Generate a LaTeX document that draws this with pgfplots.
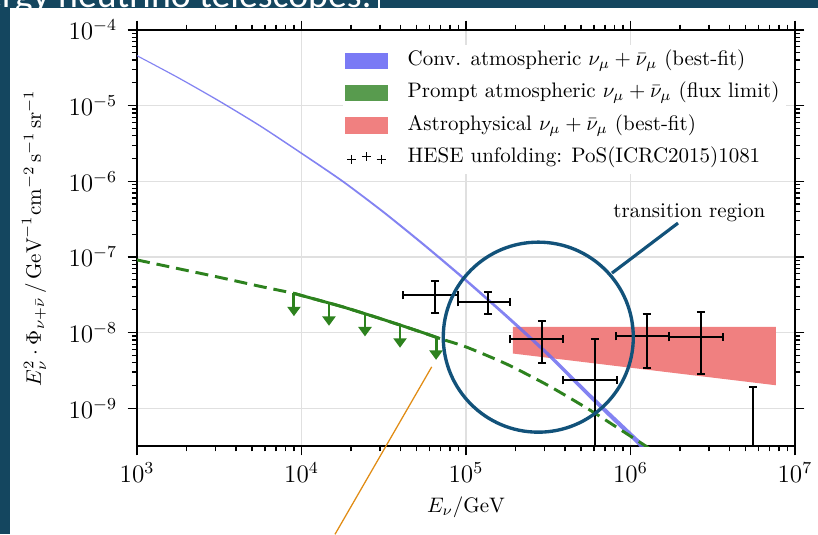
\documentclass[border=0pt]{standalone}
\usepackage{fontspec}
\newfontfamily\slidefont{Carlito}
\usepackage{pgfplots}
\pgfplotsset{compat=1.18}
\usetikzlibrary{arrows.meta}
\definecolor{slidebg}{RGB}{20,70,95}
\definecolor{convblue}{RGB}{110,110,240}
\definecolor{convpatch}{RGB}{122,122,245}
\definecolor{promptgreen}{RGB}{45,130,30}
\definecolor{promptpatch}{RGB}{88,155,78}
\definecolor{astrored}{RGB}{240,128,128}
\definecolor{circblue}{RGB}{18,82,122}
\definecolor{annorange}{RGB}{225,140,20}
\begin{document}
\begin{tikzpicture}
\useasboundingbox (0,0) rectangle (390pt,254.6pt);
\fill[slidebg] (0,0) rectangle (390pt,254.6pt);
\node[anchor=base east, inner sep=0, text=white, font=\slidefont\fontsize{18}{20}\selectfont] at (177.4pt,251.0pt) {High-energy neutrino telescopes:};
\fill[white] (4.77pt,0) rectangle (390pt,251.0pt);
\draw[white, line width=1pt] (180.7pt,251pt) -- (180.7pt,254.6pt);
\begin{axis}[
  at={(65.32pt,41.96pt)}, anchor=south west,
  scale only axis, width=313.7pt, height=198.35pt,
  xmode=log, ymode=log,
  xmin=1e3, xmax=1e7, ymin=3.16228e-10, ymax=1e-4,
  xtick={1e3,1e4,1e5,1e6,1e7},
  ytick={1e-9,1e-8,1e-7,1e-6,1e-5,1e-4},
  grid=major, major grid style={black!12, line width=0.6pt},
  axis line style={line width=0.9pt},
  tick align=outside,
  major tick length=4.5pt, minor tick length=2.5pt,
  every tick/.style={black, line width=0.6pt},
  tick label style={font=\fontsize{12}{14}\selectfont},
  yticklabel style={xshift=-1.5pt},
  label style={font=\fontsize{12.5}{14}\selectfont},
  clip mode=individual,
  xlabel={$E_{\nu}/\mathrm{GeV}$},
  ylabel={$E_{\nu}^{2}\cdot\Phi_{\nu+\bar{\nu}}\,/\,\mathrm{GeV}^{-1}\mathrm{cm}^{-2}\,\mathrm{s}^{-1}\,\mathrm{sr}^{-1}$},
  every axis x label/.style={at={(axis description cs:0.5,-0.1466)}, anchor=center},
  every axis y label/.style={at={(axis description cs:-0.1565,0.5)}, anchor=center, rotate=90},
  legend style={
    at={(axis description cs:0.3125,0.966)}, anchor=north west,
    draw=none, fill=white, inner xsep=1pt, inner ysep=1pt,
    font=\fontsize{10}{12}\selectfont,
    row sep=1.9pt,
    nodes={inner sep=2pt, text height=7pt, text depth=2.5pt},
    /tikz/every odd column/.append style={column sep=7.4pt},
  },
  legend cell align=left,
]
\addlegendimage{legend image code/.code={\fill[convpatch] (0pt,-3.6pt) rectangle (20pt,3.6pt);}}
\addlegendentry{Conv. atmospheric $\nu_{\mu}+\bar{\nu}_{\mu}$ (best-fit)}
\addlegendimage{legend image code/.code={\fill[promptpatch] (0pt,-3.6pt) rectangle (20pt,3.6pt);}}
\addlegendentry{Prompt atmospheric $\nu_{\mu}+\bar{\nu}_{\mu}$ (flux limit)}
\addlegendimage{legend image code/.code={\fill[astrored] (0pt,-3.6pt) rectangle (20pt,3.6pt);}}
\addlegendentry{Astrophysical $\nu_{\mu}+\bar{\nu}_{\mu}$ (best-fit)}
\addlegendimage{legend image code/.code={\draw[black,line width=0.5pt] plot[only marks, mark=+, mark size=2.2pt] coordinates {(3pt,-0.8pt) (10pt,0.4pt) (17pt,-0.8pt)};}}
\addlegendentry{HESE unfolding: PoS(ICRC2015)1081}

% astrophysical best-fit band
\addplot[fill=astrored, draw=none, forget plot] coordinates {
 (1.93e5,1.19e-8) (7.66e6,1.19e-8) (7.66e6,2.01e-9) (1.93e5,5.28e-9)} -- cycle;

% conventional atmospheric band
\addplot[fill=convblue, fill opacity=0.85, draw=none, smooth, tension=0.4, forget plot] coordinates {
 (1000,4.656e-5) (1778,2.393e-5) (3162,1.175e-5) (5623,5.508e-6) (1e4,2.410e-6)
 (17783,1.033e-6) (31623,4.036e-7) (56234,1.472e-7) (1e5,5.140e-8) (177828,1.718e-8)
 (316228,5.495e-9) (562341,1.603e-9) (1e6,4.898e-10) (1.413e6,2.371e-10)
 (1.413e6,1.928e-10) (1e6,4.074e-10) (562341,1.365e-9) (316228,4.786e-9)
 (177828,1.531e-8) (1e5,4.667e-8) (56234,1.355e-7) (31623,3.750e-7) (17783,9.683e-7)
 (1e4,2.280e-6) (5623,5.236e-6) (3162,1.122e-5) (1778,2.296e-5) (1000,4.487e-5)} -- cycle;

% prompt model (dashed)
\addplot[promptgreen, line width=1.4pt, dash pattern=on 6.2pt off 3.3pt, smooth, tension=0.4, forget plot] coordinates {
 (1000,9.12e-8) (1778,7.00e-8) (3162,5.370e-8) (5623,4.074e-8) (8872,3.319e-8)
 (1e4,3.090e-8) (17783,2.188e-8) (31623,1.479e-8) (56234,9.772e-9) (69500,8.318e-9)
 (1e5,6.457e-9) (177828,3.802e-9) (316228,1.995e-9) (562341,9.550e-10) (1e6,4.266e-10)
 (1.585e6,2.239e-10)};

% prompt flux limit (solid)
\addplot[promptgreen, line width=1.4pt, smooth, tension=0.4, forget plot] coordinates {
 (8995,3.29e-8) (1e4,3.090e-8) (17783,2.188e-8) (31623,1.479e-8) (56234,9.772e-9) (69500,8.318e-9)};

% limit arrows
\addplot[promptgreen, line width=1.4pt, -{Triangle[width=6.2pt,length=4.5pt]}, forget plot] coordinates {(8995,3.289e-8) (8995,1.645e-8)};
\addplot[promptgreen, line width=1.4pt, -{Triangle[width=6.2pt,length=4.5pt]}, forget plot] coordinates {(14690,2.455e-8) (14690,1.228e-8)};
\addplot[promptgreen, line width=1.4pt, -{Triangle[width=6.2pt,length=4.5pt]}, forget plot] coordinates {(24320,1.778e-8) (24320,8.89e-9)};
\addplot[promptgreen, line width=1.4pt, -{Triangle[width=6.2pt,length=4.5pt]}, forget plot] coordinates {(39720,1.259e-8) (39720,6.30e-9)};
\addplot[promptgreen, line width=1.4pt, -{Triangle[width=6.2pt,length=4.5pt]}, forget plot] coordinates {(65770,8.710e-9) (65770,4.355e-9)};

% HESE unfolding
\addplot[black, only marks, mark=*, mark size=0pt, forget plot,
  error bars/.cd, x dir=both, x explicit, y dir=both, y explicit,
  error bar style={black, line width=0.9pt},
  error mark=-,
  error mark options={rotate=90, black, line width=0.9pt, mark size=2pt}]
coordinates {
 (64860,3.126e-8) += (24470,1.660e-8) -= (23460,1.319e-8)
 (136100,2.523e-8) += (48800,0.897e-8) -= (46770,0.773e-8)
 (289700,8.185e-9) += (99300,5.975e-9) -= (104800,4.249e-9)
 (608100,2.344e-9) += (219800,5.841e-9) -= (219100,2.334e-9)
 (1.259e6,8.954e-9) += (455000,8.546e-9) -= (442400,5.573e-9)
 (2.685e6,8.690e-9) += (963000,9.93e-9) -= (971000,5.872e-9)
};
\addplot[black, only marks, mark=*, mark size=0pt, forget plot,
  error bars/.cd, y dir=plus, y explicit,
  error bar style={black, line width=0.9pt},
  error mark=-,
  error mark options={rotate=90, black, line width=0.9pt, mark size=2pt}]
coordinates {(5.559e6,1e-11) += (0,1.887e-9)};

% annotations
\draw[circblue, line width=1.6pt] (axis cs:2.751e5,8.69e-9) circle[radius=45.3pt];
\draw[circblue, line width=1.5pt] (axis cs:7.72e5,6.11e-8) -- (axis cs:1.945e6,2.80e-7);
\node[anchor=base west, inner sep=0, font=\fontsize{10}{12}\selectfont] at (axis cs:7.83e5,3.36e-7) {transition region};
\draw[annorange, line width=0.6pt] (axis cs:6.19e4,3.52e-9) -- (axis cs:1.598e4,2.15e-11);
\end{axis}
\end{tikzpicture}
\end{document}
